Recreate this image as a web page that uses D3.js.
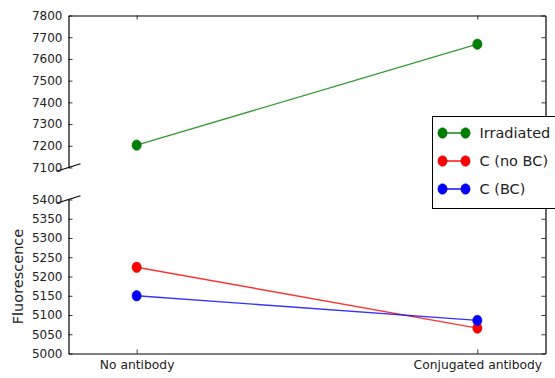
<!DOCTYPE html>
<html>
<head>
<meta charset="utf-8">
<script src="https://cdn.jsdelivr.net/npm/d3@7"></script>
<style>
  html, body { margin: 0; padding: 0; background: #fff; }
  svg { display: block; font-family: "DejaVu Sans", sans-serif; }
</style>
</head>
<body>
<svg id="chart" width="555" height="378"></svg>
<script>
// Categories on the x axis
const categories = ["No antibody", "Conjugated antibody"];

// Series values (fluorescence)
const irradiated = [7203, 7668];
const cNoBC = [5224, 5066];
const cBC = [5150, 5086];

const seriesNames = ["Irradiated", "C (no BC)", "C (BC)"];
const seriesColors = ["#008000", "#ff0000", "#0000ff"];

// Tick values for the two halves of the broken y axis
const topTicks = [7100, 7200, 7300, 7400, 7500, 7600, 7700, 7800];
const bottomTicks = [5000, 5050, 5100, 5150, 5200, 5250, 5300, 5350, 5400];

const series = [
  { name: seriesNames[0], color: seriesColors[0], values: irradiated, panel: "top" },
  { name: seriesNames[1], color: seriesColors[1], values: cNoBC, panel: "bottom" },
  { name: seriesNames[2], color: seriesColors[2], values: cBC, panel: "bottom" }
];

const svg = d3.select("#chart");

const left = 68.5, right = 545.5;
const topPanel = { y0: 15.5, y1: 167.5 };
const botPanel = { y0: 199.5, y1: 353.5 };

const x = d3.scaleLinear().domain([-0.2, 1.2]).range([left, right]);
const yTop = d3.scaleLinear().domain([7100, 7800]).range([topPanel.y1, topPanel.y0]);
const yBot = d3.scaleLinear().domain([5000, 5400]).range([botPanel.y1, botPanel.y0]);

const tickLen = 4;
const plain = d3.format("d");

function styleAxis(g) {
  g.selectAll("path.domain").attr("stroke", "#000").attr("stroke-width", 1.2);
  g.selectAll(".tick line").attr("stroke", "#000").attr("stroke-width", 0.8);
  g.selectAll(".tick text").attr("fill", "#222");
}

// --- Top panel axes ---
svg.append("g")
  .attr("transform", `translate(${left},0)`)
  .call(d3.axisLeft(yTop).tickValues(topTicks).tickFormat(plain)
    .tickSize(-tickLen).tickSizeOuter(0).tickPadding(6))
  .call(styleAxis)
  .attr("font-size", 12).attr("font-family", "DejaVu Sans");

svg.append("g")
  .attr("transform", `translate(${right},0)`)
  .call(d3.axisRight(yTop).tickValues(topTicks).tickSize(-tickLen).tickSizeOuter(0).tickFormat(""))
  .call(styleAxis);

svg.append("g")
  .attr("transform", `translate(0,${topPanel.y0})`)
  .call(d3.axisTop(x).tickValues([0, 1]).tickSize(-tickLen).tickSizeOuter(0).tickFormat(""))
  .call(styleAxis);

// --- Bottom panel axes ---
svg.append("g")
  .attr("transform", `translate(${left},0)`)
  .call(d3.axisLeft(yBot).tickValues(bottomTicks).tickFormat(plain)
    .tickSize(-tickLen).tickSizeOuter(0).tickPadding(6))
  .call(styleAxis)
  .attr("font-size", 12).attr("font-family", "DejaVu Sans");

svg.append("g")
  .attr("transform", `translate(${right},0)`)
  .call(d3.axisRight(yBot).tickValues(bottomTicks).tickSize(-tickLen).tickSizeOuter(0).tickFormat(""))
  .call(styleAxis);

svg.append("g")
  .attr("transform", `translate(0,${botPanel.y1})`)
  .call(d3.axisBottom(x).tickValues([0, 1]).tickSize(-tickLen).tickSizeOuter(0).tickPadding(7)
    .tickFormat((d) => categories[d]))
  .call(styleAxis)
  .attr("font-size", 12.3).attr("font-family", "DejaVu Sans");

// Axis break marks (diagonal strokes at the cut edges)
const dx = 12, dy = 3.8;
[[left, topPanel.y1], [right, topPanel.y1], [left, botPanel.y0], [right, botPanel.y0]].forEach(([px, py]) => {
  svg.append("line")
    .attr("x1", px - dx).attr("y1", py + dy)
    .attr("x2", px + dx).attr("y2", py - dy)
    .attr("stroke", "#000").attr("stroke-width", 1.2);
});

// --- Data lines and markers ---
const lineTop = d3.line().x((d, i) => x(i)).y((d) => yTop(d));
const lineBot = d3.line().x((d, i) => x(i)).y((d) => yBot(d));

series.forEach((s) => {
  const yS = s.panel === "top" ? yTop : yBot;
  const ln = s.panel === "top" ? lineTop : lineBot;
  svg.append("path")
    .datum(s.values)
    .attr("d", ln)
    .attr("fill", "none")
    .attr("stroke", s.color)
    .attr("stroke-opacity", 0.8)
    .attr("stroke-width", 1.4);
  svg.selectAll(null)
    .data(s.values)
    .enter().append("ellipse")
    .attr("cx", (d, i) => x(i))
    .attr("cy", (d) => yS(d))
    .attr("rx", 4.6).attr("ry", 5.2)
    .attr("fill", s.color)
    .attr("stroke", d3.color(s.color).darker(0.6))
    .attr("stroke-width", 0.6);
});

// --- Y axis title ---
svg.append("text")
  .attr("transform", `translate(18,${(botPanel.y0 + botPanel.y1) / 2}) rotate(-90)`)
  .attr("text-anchor", "middle")
  .attr("dominant-baseline", "central")
  .attr("font-size", 14.5)
  .attr("fill", "#222")
  .text("Fluorescence");

// --- Legend ---
const legend = svg.append("g").attr("transform", "translate(432.5,116.5)");
legend.append("rect")
  .attr("width", 160).attr("height", 92)
  .attr("fill", "#fff").attr("stroke", "#000").attr("stroke-width", 1);

series.forEach((s, i) => {
  const cy = 16.5 + i * 28;
  const row = legend.append("g").attr("transform", `translate(0,${cy})`);
  row.append("line")
    .attr("x1", 10).attr("x2", 33)
    .attr("stroke", s.color).attr("stroke-width", 1.4);
  [10, 33].forEach((cx) => {
    row.append("ellipse")
      .attr("cx", cx).attr("cy", 0).attr("rx", 4.6).attr("ry", 5.2)
      .attr("fill", s.color)
      .attr("stroke", d3.color(s.color).darker(0.6)).attr("stroke-width", 0.6);
  });
  row.append("text")
    .attr("x", 47).attr("y", 0)
    .attr("dominant-baseline", "central")
    .attr("font-size", 14.5)
    .attr("fill", "#222")
    .text(s.name);
});
</script>
</body>
</html>
